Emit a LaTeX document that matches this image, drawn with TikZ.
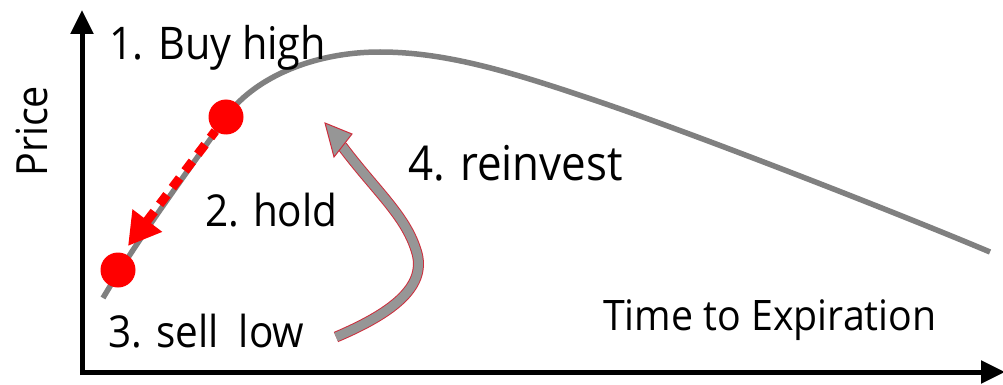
\documentclass[tikz,border=0pt]{standalone}
\usepackage{fontspec}
\setmainfont{Open Sans}
\usetikzlibrary{arrows.meta}
\definecolor{curvegray}{RGB}{128,128,128}
\definecolor{arrowgray}{RGB}{150,150,150}
\definecolor{outlinered}{RGB}{205,45,60}
\definecolor{dotred}{RGB}{255,0,0}
\tikzset{
  axis/.style={line width=5pt, black, -{Triangle[length=24pt,width=22pt]}},
  pricecurve/.style={line width=5.5pt, curvegray},
  dot/.style={circle, fill=dotred, draw=none, minimum size=35pt, inner sep=0pt},
  holdarrow/.style={line width=9pt, dotred, dash pattern=on 12pt off 9pt, dash phase=4pt,
    -{Triangle[length=32pt,width=35pt]}},
  label/.style={inner sep=0pt, anchor=base west, text=black},
}
\newcommand{\lab}[3]{\scalebox{#2}[1]{\fontsize{#1}{#1}\selectfont #3}}
\begin{document}
\begin{tikzpicture}[x=1pt,y=-1pt]
\useasboundingbox (0,0) rectangle (1003,385);
% axes
\coordinate (O) at (82,375);
\coordinate (Oy) at (80,372);
\coordinate (Ytip) at (82,10);
\coordinate (Xtip) at (1005,372);
\draw[axis] (O) -- (Ytip);
\draw[axis] (Oy) -- (Xtip);
% price curve
\draw[pricecurve] (103,298) .. controls (140,235) and (193,164) .. (226,117)
  .. controls (252,80) and (310,52) .. (380,52)
  .. controls (450,52) and (520,75) .. (600,102)
  .. controls (700,136) and (900,214) .. (990,252);
% dots
\node[dot] (high) at (226,117) {};
\node[dot] (low) at (118,270) {};
% hold arrow
\coordinate (holdtip) at (128,246);
\draw[holdarrow] (high) -- (holdtip);
% reinvest arrow
\coordinate (rs) at (336,337);
\coordinate (rb) at (342,146);
\coordinate (rt) at (325,123);
\draw[outlinered, line width=11pt] (rs) .. controls (395,312) and (428,285) .. (416,250)
   .. controls (405,215) and (375,190) .. (rb);
\draw[arrowgray, line width=9pt] (rs) .. controls (395,312) and (428,285) .. (416,250)
   .. controls (405,215) and (375,190) .. (rb);
\filldraw[fill=arrowgray, draw=outlinered, line width=1pt, line join=miter]
   (rt) -- (352,134) -- (334,157) -- cycle;
% labels
\node[label] (buy) at (109,60) {\lab{45}{0.92}{1. Buy high}};
\node[label] (hold) at (205,226) {\lab{44}{0.92}{2. hold}};
\node[label] (sell) at (108,347) {\lab{44}{0.92}{3. sell\hspace{22pt}low}};
\node[label] (reinvest) at (408,180) {\lab{48}{0.914}{4. reinvest}};
\node[label] (time) at (603,330) {\lab{42}{0.935}{Time to Expiration}};
\node[label, rotate=90] (price) at (47,177) {\lab{43}{0.92}{Price}};
\end{tikzpicture}
\end{document}
